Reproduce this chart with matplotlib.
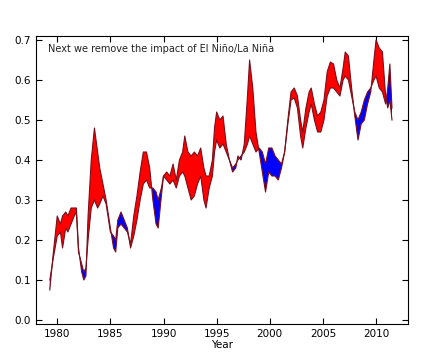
import numpy as np
from matplotlib import pyplot as plt

# time axis (years) and the two series: raw and ENSO-adjusted
years = [1979.3, 1979.6, 1980.0, 1980.3, 1980.5, 1980.8, 1981.0, 1981.3, 1981.6, 1981.8,
         1982.0, 1982.3, 1982.5, 1982.7, 1982.9, 1983.2, 1983.5, 1983.8, 1984.0, 1984.3,
         1984.6, 1985.0, 1985.3, 1985.5, 1985.7, 1986.0, 1986.3, 1986.6, 1986.9, 1987.2,
         1987.5, 1987.8, 1988.1, 1988.4, 1988.7, 1989.0, 1989.3, 1989.5, 1989.8, 1990.0,
         1990.3, 1990.6, 1990.9, 1991.2, 1991.5, 1991.8, 1992.0, 1992.3, 1992.6, 1992.9,
         1993.2, 1993.5, 1993.8, 1994.0, 1994.3, 1994.6, 1994.8, 1995.0, 1995.3, 1995.6,
         1995.9, 1996.2, 1996.5, 1996.8, 1997.0, 1997.3, 1997.6, 1997.9, 1998.1, 1998.4,
         1998.7, 1999.0, 1999.3, 1999.6, 1999.9, 2000.2, 2000.5, 2000.8, 2001.1, 2001.4,
         2001.7, 2002.0, 2002.3, 2002.6, 2002.9, 2003.1, 2003.4, 2003.7, 2003.9, 2004.2,
         2004.5, 2004.8, 2005.1, 2005.4, 2005.7, 2006.0, 2006.3, 2006.6, 2006.9, 2007.1,
         2007.4, 2007.7, 2008.0, 2008.3, 2008.6, 2008.9, 2009.2, 2009.5, 2009.8, 2010.0,
         2010.3, 2010.6, 2010.9, 2011.1, 2011.3, 2011.5]

raw = [0.075, 0.16, 0.26, 0.24, 0.26, 0.27, 0.26, 0.28, 0.28, 0.28,
       0.18, 0.12, 0.10, 0.11, 0.26, 0.40, 0.48, 0.42, 0.38, 0.34,
       0.30, 0.23, 0.18, 0.17, 0.23, 0.24, 0.23, 0.22, 0.19, 0.26,
       0.31, 0.37, 0.42, 0.42, 0.38, 0.30, 0.24, 0.23, 0.31, 0.36,
       0.37, 0.36, 0.39, 0.35, 0.40, 0.42, 0.46, 0.42, 0.41, 0.42,
       0.41, 0.43, 0.38, 0.36, 0.36, 0.40, 0.48, 0.52, 0.50, 0.51,
       0.44, 0.40, 0.37, 0.38, 0.41, 0.40, 0.44, 0.56, 0.65, 0.58,
       0.47, 0.42, 0.37, 0.32, 0.37, 0.36, 0.36, 0.35, 0.38, 0.42,
       0.50, 0.57, 0.58, 0.56, 0.50, 0.47, 0.53, 0.57, 0.58, 0.54,
       0.51, 0.52, 0.55, 0.62, 0.645, 0.64, 0.60, 0.58, 0.63, 0.67,
       0.66, 0.58, 0.51, 0.45, 0.49, 0.50, 0.54, 0.57, 0.65, 0.70,
       0.68, 0.67, 0.56, 0.53, 0.55, 0.50]

adjusted = [0.10, 0.15, 0.21, 0.22, 0.18, 0.23, 0.22, 0.24, 0.26, 0.27,
            0.17, 0.14, 0.12, 0.13, 0.20, 0.28, 0.30, 0.28, 0.29, 0.31,
            0.29, 0.22, 0.21, 0.20, 0.25, 0.27, 0.25, 0.23, 0.18, 0.21,
            0.25, 0.30, 0.34, 0.35, 0.33, 0.33, 0.32, 0.30, 0.33, 0.36,
            0.35, 0.34, 0.35, 0.33, 0.36, 0.37, 0.36, 0.33, 0.30, 0.31,
            0.34, 0.36, 0.30, 0.28, 0.33, 0.36, 0.42, 0.45, 0.43, 0.44,
            0.42, 0.40, 0.38, 0.39, 0.40, 0.41, 0.42, 0.44, 0.46, 0.44,
            0.42, 0.43, 0.42, 0.39, 0.43, 0.43, 0.41, 0.40, 0.39, 0.42,
            0.49, 0.55, 0.555, 0.53, 0.46, 0.43, 0.48, 0.52, 0.54, 0.50,
            0.47, 0.47, 0.50, 0.56, 0.58, 0.58, 0.57, 0.56, 0.60, 0.61,
            0.60, 0.56, 0.52, 0.50, 0.52, 0.55, 0.57, 0.58, 0.60, 0.61,
            0.58, 0.57, 0.54, 0.58, 0.64, 0.53]

t = np.array(years)
r = np.array(raw)
a = np.array(adjusted)

fig = plt.figure(figsize=(4.31, 3.6), dpi=100)
ax = fig.add_axes([0.0835, 0.1, 0.863, 0.8])

ax.fill_between(t, r, a, where=r >= a, color='red', interpolate=True, linewidth=0)
ax.fill_between(t, r, a, where=r < a, color='blue', interpolate=True, linewidth=0)
ax.plot(t, r, color='#7a0f1a', linewidth=0.8)
ax.plot(t, a, color='#7a0f1a', linewidth=0.8)

ax.set_xlim(1978, 2013)
ax.set_ylim(-0.01, 0.71)
ax.set_xticks([1980, 1985, 1990, 1995, 2000, 2005, 2010])
ax.set_yticks(np.arange(0, 0.71, 0.1))
ax.set_yticklabels(['0.0', '0.1', '0.2', '0.3', '0.4', '0.5', '0.6', '0.7'])
ax.tick_params(direction='in', top=True, right=True, labelsize=7.5, length=4)
ax.set_xlabel('Year', fontsize=7.5, labelpad=1)
ax.text(0.032, 0.955, 'Next we remove the impact of El Niño/La Niña',
        transform=ax.transAxes, fontsize=7, va='center', color='#222222')

fig.savefig('out.png', dpi=100)
